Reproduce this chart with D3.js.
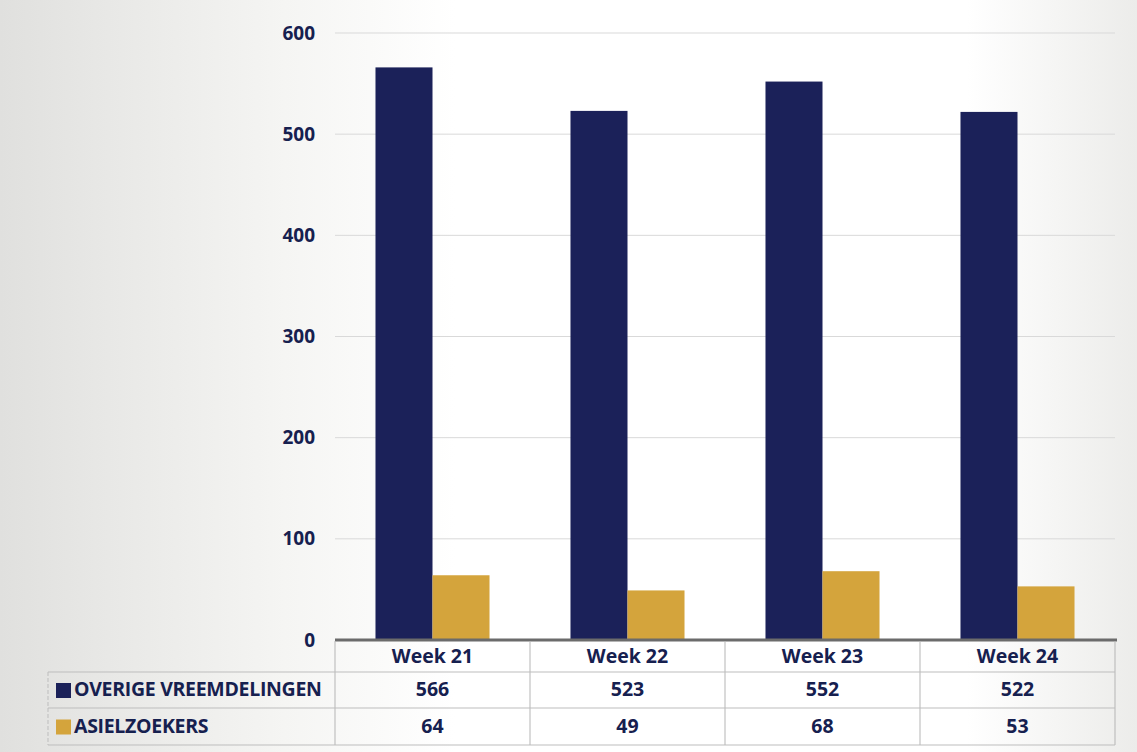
<!DOCTYPE html>
<html><head><meta charset="utf-8">
<script src="https://cdn.jsdelivr.net/npm/d3@7"></script>
<style>body{margin:0;background:#fff}svg{display:block}</style>
</head><body>
<svg id="c" width="1137" height="752"></svg>
<script>
const categories = ["Week 21","Week 22","Week 23","Week 24"];
const seriesNames = ["OVERIGE VREEMDELINGEN","ASIELZOEKERS"];
const overige = [566,523,552,522];
const asiel = [64,49,68,53];
const yTicks = [0,100,200,300,400,500,600];
const colors = ["#1b2159","#d4a43c"];
const textColor = "#16204f";

(function(){
const svg = d3.select("#c");
const W=1137,H=752;
const defs = svg.append("defs");
const g1 = defs.append("linearGradient").attr("id","bg").attr("x1","0").attr("x2","1").attr("y1","0").attr("y2","0");
g1.append("stop").attr("offset","0").attr("stop-color","#e0e0de");
g1.append("stop").attr("offset","0.25").attr("stop-color","#f5f5f3");
g1.append("stop").attr("offset","0.4").attr("stop-color","#ffffff");
g1.append("stop").attr("offset","0.85").attr("stop-color","#ffffff");
g1.append("stop").attr("offset","1").attr("stop-color","#ececea");
svg.append("rect").attr("width",W).attr("height",H).attr("fill","url(#bg)");

const mLeft=335,mRight=1115,mTop=33,mBottom=640;
const x = d3.scaleBand().domain(categories).range([mLeft,mRight]).paddingInner(0).paddingOuter(0);
const x1 = d3.scaleBand().domain(seriesNames).range([0,x.bandwidth()]).paddingInner(0).paddingOuter(0.71);
const y = d3.scaleLinear().domain([0,600]).range([mBottom,mTop]);

svg.append("g").selectAll("line").data(yTicks.filter(d=>d>0)).join("line")
  .attr("x1",mLeft).attr("x2",mRight).attr("y1",d=>y(d)).attr("y2",d=>y(d))
  .attr("stroke","#d9d9d9").attr("stroke-width",1);

const font="'Open Sans', sans-serif";
const yAxis = d3.axisLeft(y).tickValues(yTicks).tickSize(0).tickPadding(0);
const ya = svg.append("g").attr("transform",`translate(${mLeft-20},0)`).call(yAxis);
ya.select(".domain").remove();
ya.selectAll("text").attr("font-family",font).attr("font-weight","bold")
  .attr("font-size","19px").attr("fill",textColor);

const data = categories.map((c,i)=>({c, vals:[{s:seriesNames[0],v:overige[i]},{s:seriesNames[1],v:asiel[i]}]}));
const grp = svg.append("g").selectAll("g").data(data).join("g").attr("transform",d=>`translate(${x(d.c)},0)`);
grp.selectAll("rect").data(d=>d.vals).join("rect")
  .attr("x",d=>x1(d.s)).attr("width",x1.bandwidth())
  .attr("y",d=>y(d.v)).attr("height",d=>y(0)-y(d.v))
  .attr("fill",(d,i)=>colors[i]);

svg.append("line").attr("x1",mLeft).attr("x2",mRight+2).attr("y1",mBottom).attr("y2",mBottom)
  .attr("stroke","#6b6b6b").attr("stroke-width",3);

const rowY=[640,672,708,745];
const tbl = svg.append("g");
tbl.selectAll("line.v").data(categories.map(c=>x(c)).concat([mRight])).join("line")
  .attr("x1",d=>d).attr("x2",d=>d).attr("y1",mBottom+1).attr("y2",rowY[3])
  .attr("stroke","#b5b5b5").attr("stroke-width",1);
tbl.selectAll("line.h").data(rowY.slice(1)).join("line")
  .attr("x1",48).attr("x2",mRight).attr("y1",d=>d).attr("y2",d=>d)
  .attr("stroke","#bdbdbd").attr("stroke-width",1);
tbl.append("line").attr("x1",48).attr("x2",48).attr("y1",rowY[1]).attr("y2",rowY[3])
  .attr("stroke","#bdbdbd").attr("stroke-dasharray","4,2");

tbl.selectAll("text.hd").data(categories).join("text")
  .attr("x",d=>x(d)+x.bandwidth()/2).attr("y",(rowY[0]+rowY[1])/2+2)
  .attr("text-anchor","middle").attr("dominant-baseline","middle")
  .attr("font-family",font).attr("font-weight","bold").attr("font-size","19.5px").attr("fill",textColor)
  .text(d=>d);
[overige,asiel].forEach((arr,r)=>{
  tbl.selectAll("text.v"+r).data(arr).join("text")
    .attr("x",(d,i)=>x(categories[i])+x.bandwidth()/2).attr("y",(rowY[r+1]+rowY[r+2])/2+1)
    .attr("text-anchor","middle").attr("dominant-baseline","middle")
    .attr("font-family",font).attr("font-weight","bold").attr("font-size","19.5px").attr("fill",textColor)
    .text(d=>d);
});
seriesNames.forEach((s,r)=>{
  const cy=(rowY[r+1]+rowY[r+2])/2;
  tbl.append("rect").attr("x",56).attr("y",cy-7).attr("width",15).attr("height",15).attr("fill",colors[r]);
  tbl.append("text").attr("x",74).attr("y",cy+1).attr("dominant-baseline","middle")
    .attr("font-family",font).attr("font-weight","bold").attr("font-size","19.5px").attr("fill",textColor)
    .attr("letter-spacing","-0.3").text(s);
});
})();
</script>
</body></html>
